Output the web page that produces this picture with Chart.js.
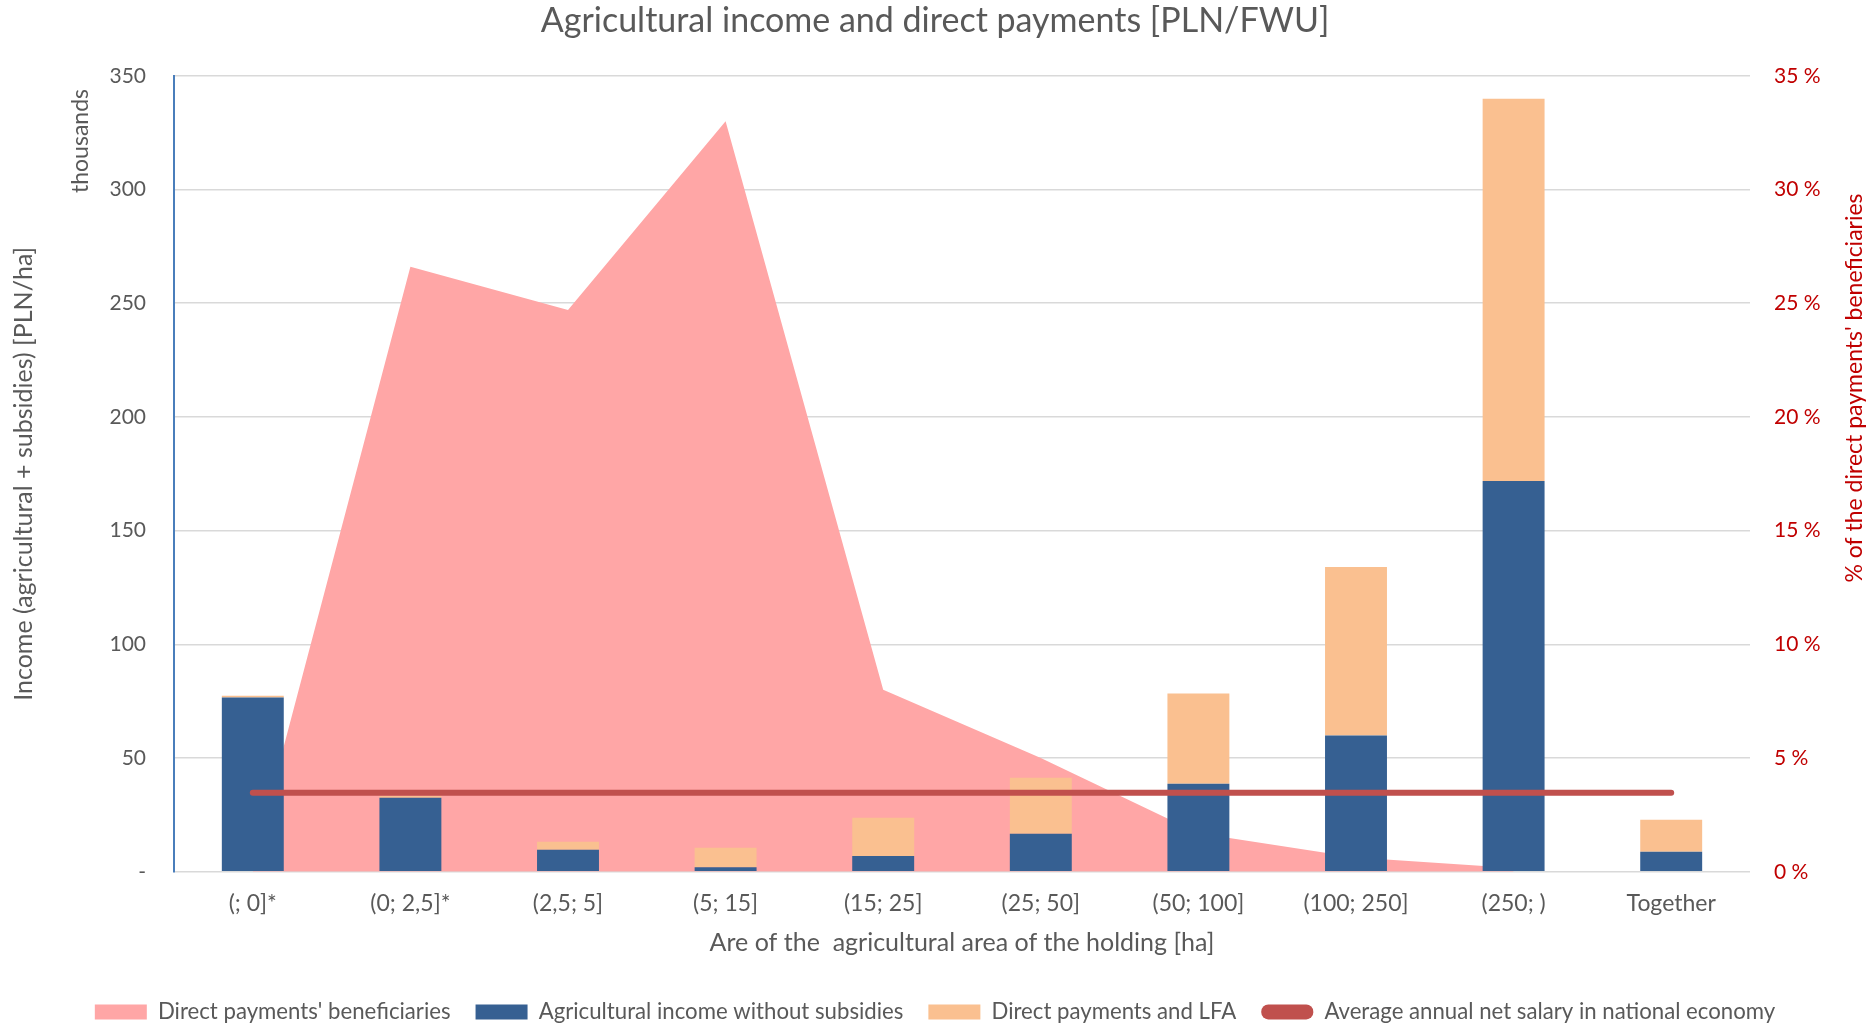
<!DOCTYPE html>
<html>
<head>
<meta charset="utf-8">
<title>Agricultural income and direct payments</title>
<script src="https://cdn.jsdelivr.net/npm/chart.js@4/dist/chart.umd.min.js"></script>
<style>
  html, body { margin: 0; padding: 0; background: #fff; }
  #wrap { width: 1870px; height: 1027px; position: relative; }
</style>
</head>
<body>
<div id="wrap"><canvas id="myChart"></canvas></div>
<script>
// ── Data ──────────────────────────────────────────────
const categories = ['(; 0]*', '(0; 2,5]*', '(2,5; 5]', '(5; 15]', '(15; 25]',
                    '(25; 50]', '(50; 100]', '(100; 250]', '(250; )', 'Together'];

// thousands PLN
const incomeNoSubsidies = [76.6, 32.6, 9.7, 2.0, 7.0, 16.7, 38.7, 59.9, 171.8, 8.8];
const directPaymentsLFA = [0.8, 0.7, 3.5, 8.6, 16.8, 24.7, 39.7, 74.1, 168.1, 14.1];
const avgNetSalary      = [34.8, 34.8, 34.8, 34.8, 34.8, 34.8, 34.8, 34.8, 34.8, 34.8];

// % of the direct payments' beneficiaries (no value for "Together")
const beneficiariesPct  = [0.35, 26.6, 24.7, 33.0, 8.0, 5.0, 1.7, 0.63, 0.17, null];

const leftTicks  = { min: 0, max: 350, step: 50 };
const rightTicks = { min: 0, max: 35, step: 5 };

// ── Styling ───────────────────────────────────────────
const FONT  = 'Lato, "Open Sans", sans-serif';
const GREY  = '#595959';
const RED   = '#C00000';

// extra texts that sit outside the normal axis title spots
const extraTexts = {
  id: 'extraTexts',
  afterDraw(chart) {
    const ctx = chart.ctx;
    ctx.save();
    ctx.textAlign = 'center';
    ctx.textBaseline = 'middle';

    // "thousands" above the left axis title
    ctx.font = '23px ' + FONT;
    ctx.fillStyle = GREY;
    ctx.translate(81, 141);
    ctx.rotate(-Math.PI / 2);
    ctx.fillText('thousands', 0, 0);
    ctx.restore();

    // right axis title, reading upwards
    ctx.save();
    ctx.textAlign = 'center';
    ctx.textBaseline = 'middle';
    ctx.font = '23px ' + FONT;
    ctx.fillStyle = RED;
    ctx.translate(1855, 388);
    ctx.rotate(-Math.PI / 2);
    ctx.fillText("% of the direct payments' beneficiaries", 0, 0);
    ctx.restore();
  }
};

const ctx = document.getElementById('myChart').getContext('2d');

new Chart(ctx, {
  data: {
    labels: categories,
    datasets: [
      {
        type: 'line',
        label: "Direct payments' beneficiaries",
        data: beneficiariesPct,
        yAxisID: 'y1',
        fill: 'origin',
        backgroundColor: '#FFA6A6',
        borderColor: '#FFA6A6',
        borderWidth: 0,
        pointRadius: 0,
        tension: 0,
        order: 2
      },
      {
        type: 'bar',
        label: 'Agricultural income without subsidies',
        data: incomeNoSubsidies,
        yAxisID: 'y',
        backgroundColor: '#366092',
        borderWidth: 0,
        stack: 'income',
        categoryPercentage: 1,
        barPercentage: 0.393,
        order: 1
      },
      {
        type: 'bar',
        label: 'Direct payments and LFA',
        data: directPaymentsLFA,
        yAxisID: 'y',
        backgroundColor: '#FAC090',
        borderWidth: 0,
        stack: 'income',
        categoryPercentage: 1,
        barPercentage: 0.393,
        order: 1
      },
      {
        type: 'line',
        label: 'Average annual net salary in national economy',
        data: avgNetSalary,
        yAxisID: 'y',
        stack: 'salary',
        borderColor: '#C0504D',
        backgroundColor: '#C0504D',
        borderWidth: 6,
        borderCapStyle: 'round',
        pointRadius: 0,
        fill: false,
        order: 0
      }
    ]
  },
  options: {
    responsive: true,
    maintainAspectRatio: false,
    animation: false,
    layout: { padding: { left: 0, right: 0, top: 0, bottom: -6 } },
    plugins: {
      title: {
        display: true,
        text: 'Agricultural income and direct payments [PLN/FWU]',
        color: GREY,
        font: { family: FONT, size: 34, weight: 'normal' },
        padding: { top: 1, bottom: 34 }
      },
      legend: {
        position: 'bottom',
        labels: {
          color: GREY,
          font: { family: FONT, size: 22.2 },
          boxWidth: 52,
          boxHeight: 15,
          padding: 25,
          sort: (a, b) => a.datasetIndex - b.datasetIndex,
          generateLabels: chart => {
            const items = Chart.defaults.plugins.legend.labels.generateLabels(chart);
            items.forEach(it => {
              it.lineWidth = 0;
              if (it.datasetIndex === 3) {
                it.fillStyle = '#C0504D';
                it.borderRadius = 7;
              }
            });
            return items;
          }
        }
      },
      tooltip: { enabled: false }
    },
    scales: {
      x: {
        stacked: true,
        grid: { display: false, drawTicks: false },
        border: { display: false },
        ticks: { color: GREY, font: { family: FONT, size: 23 }, padding: 18, maxRotation: 0 },
        title: {
          display: true,
          text: 'Are of the  agricultural area of the holding [ha]',
          color: GREY,
          font: { family: FONT, size: 25 },
          padding: { top: 0, bottom: 18 }
        },
        afterFit: s => { s.height = 104; }
      },
      y: {
        position: 'left',
        stacked: true,
        min: leftTicks.min,
        max: leftTicks.max,
        grid: { color: '#D9D9D9', lineWidth: 1.5, drawTicks: false },
        border: { display: true, color: '#4A7EBB', width: 2 },
        ticks: {
          stepSize: leftTicks.step,
          color: GREY,
          font: { family: FONT, size: 21 },
          padding: 28,
          callback: v => v === 0 ? '-' : v
        },
        title: {
          display: true,
          text: 'Income (agricultural + subsidies) [PLN/ha]',
          color: GREY,
          font: { family: FONT, size: 25 },
          padding: { top: 9, bottom: 0 }
        },
        afterFit: s => { s.width = 174; }
      },
      y1: {
        position: 'right',
        min: rightTicks.min,
        max: rightTicks.max,
        grid: { display: false, drawTicks: false },
        border: { display: false },
        ticks: {
          stepSize: rightTicks.step,
          color: RED,
          font: { family: FONT, size: 21 },
          padding: 24,
          callback: v => v + ' %'
        },
        afterFit: s => { s.width = 120; }
      }
    }
  },
  plugins: [extraTexts]
});
</script>
</body>
</html>
